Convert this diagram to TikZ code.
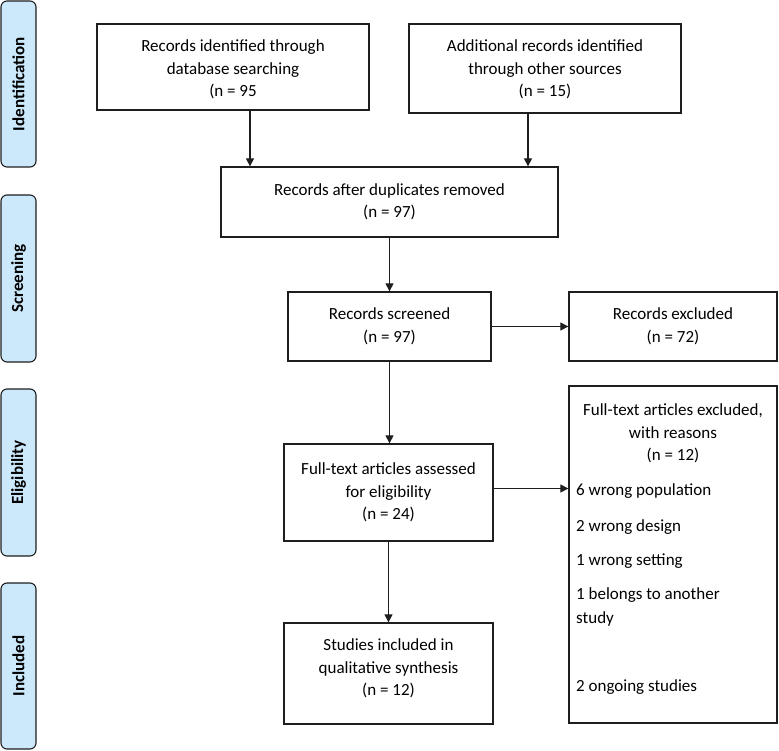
\documentclass[tikz,border=0pt]{standalone}
\usepackage{fontspec}
\setmainfont{Carlito}
\usetikzlibrary{arrows.meta}
\definecolor{sidefill}{RGB}{204,232,251}
\definecolor{boxline}{RGB}{30,30,30}
\tikzset{
  stagebar/.style={draw=boxline, line width=1.1pt, fill=sidefill, rounded corners=6pt, minimum width=35pt, inner sep=0pt},
  stagetext/.style={rotate=90, font=\fontsize{17}{19}\selectfont\bfseries},
  flowbox/.style={draw=boxline, line width=1.3pt, rectangle, inner sep=0pt, align=center, font=\fontsize{17}{22.5}\selectfont},
  plaintext/.style={inner sep=0pt, font=\fontsize{17}{22.5}\selectfont},
  arr/.style={draw=boxline, line width=1.2pt, -{Triangle[length=8pt,width=8pt]}}
}
\begin{document}
\begin{tikzpicture}[x=1pt,y=-1pt]
\useasboundingbox (0,0) rectangle (779,751);
% stage bars
\node[stagebar, minimum height=166pt] (sid) at (18.5,84) {};
\node[stagetext] (tid) at (sid.center) {Identification};
\node[stagebar, minimum height=167pt] (ssc) at (18.5,278.5) {};
\node[stagetext] (tsc) at (ssc.center) {Screening};
\node[stagebar, minimum height=167pt] (sel) at (18.5,472.5) {};
\node[stagetext] (tel) at (sel.center) {Eligibility};
\node[stagebar, minimum height=166pt] (sin) at (18.5,666) {};
\node[stagetext] (tin) at (sin.center) {Included};
% boxes
\node[flowbox, minimum width=272pt, minimum height=86pt] (b1) at (233,67) {};
\node[plaintext, align=center] (t1) at (233,69.5) {Records identified through\\database searching\\(n = 95};
\node[flowbox, minimum width=272pt, minimum height=89pt] (b2) at (545,68.5) {};
\node[plaintext, align=center] (t2) at (545,69.5) {Additional records identified\\through other sources\\(n = 15)};
\node[flowbox, minimum width=337pt, minimum height=70pt] (b3) at (389.5,202) {Records after duplicates removed\\(n = 97)};
\node[flowbox, minimum width=203pt, minimum height=69pt] (b4) at (389.5,326.5) {Records screened\\(n = 97)};
\node[flowbox, minimum width=208pt, minimum height=69pt] (b5) at (673,326.5) {Records excluded\\(n = 72)};
\node[flowbox, minimum width=209pt, minimum height=97pt] (b6) at (388.5,492.5) {Full-text articles assessed\\for eligibility\\(n = 24)};
\node[flowbox, minimum width=209pt, minimum height=101pt] (b8) at (388.5,673.5) {};
\node[plaintext, align=center] (t8) at (388.5,668.5) {Studies included in\\qualitative synthesis\\(n = 12)};
\node[flowbox, minimum width=208pt, minimum height=337pt] (b7) at (673,554.5) {};
\node[plaintext, align=center] (t7h) at (673,433.5) {Full-text articles excluded,\\with reasons\\(n = 12)};
\node[plaintext, anchor=base west] (r1) at (576,495) {6 wrong population};
\node[plaintext, anchor=base west] (r2) at (576,531) {2 wrong design};
\node[plaintext, anchor=base west] (r3) at (576,565) {1 wrong setting};
\node[plaintext, anchor=base west] (r4) at (576,599) {1 belongs to another};
\node[plaintext, anchor=base west] (r4b) at (576,623) {study};
\node[plaintext, anchor=base west] (r5) at (576,691) {2 ongoing studies};
% connectors
\draw[arr] ([xshift=17pt]b1.south) -- ([xshift=17pt]b1.south |- b3.north);
\draw[arr] ([xshift=-17pt]b2.south) -- ([xshift=-17pt]b2.south |- b3.north);
\draw[arr] (b3.south) -- (b3.south |- b4.north);
\draw[arr] (b4.east) -- (b4.east -| b5.west);
\draw[arr] (b4.south) -- (b4.south |- b6.north);
\draw[arr] ([yshift=4pt]b6.east) -- ([yshift=4pt]b6.east -| b7.west);
\draw[arr] (b6.south) -- (b6.south |- b8.north);
\end{tikzpicture}
\end{document}
